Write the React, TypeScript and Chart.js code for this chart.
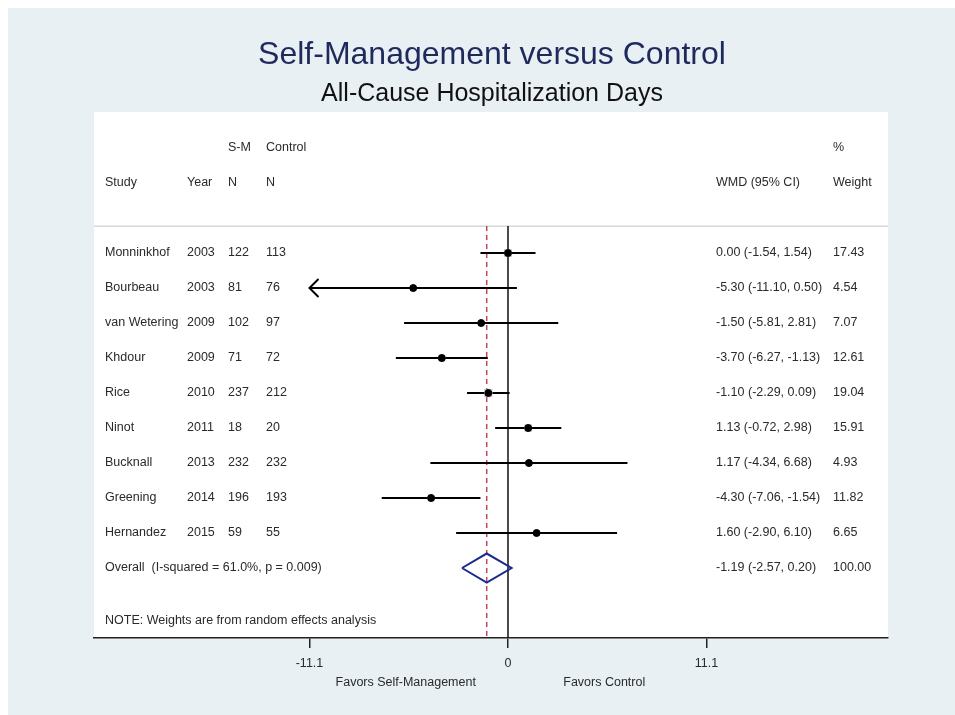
import React, { useEffect, useRef } from "react";
import { Chart, registerables } from "chart.js";

Chart.register(...registerables);

// ---------- data ----------
const studies = ["Monninkhof", "Bourbeau", "van Wetering", "Khdour", "Rice", "Ninot", "Bucknall", "Greening", "Hernandez"];
const years = [2003, 2003, 2009, 2009, 2010, 2011, 2013, 2014, 2015];
const smN = [122, 81, 102, 71, 237, 18, 232, 196, 59];
const controlN = [113, 76, 97, 72, 212, 20, 232, 193, 55];
const wmd = [0.0, -5.3, -1.5, -3.7, -1.1, 1.13, 1.17, -4.3, 1.6];
const ciLow = [-1.54, -11.1, -5.81, -6.27, -2.29, -0.72, -4.34, -7.06, -2.9];
const ciHigh = [1.54, 0.5, 2.81, -1.13, 0.09, 2.98, 6.68, -1.54, 6.1];
const weights = [17.43, 4.54, 7.07, 12.61, 19.04, 15.91, 4.93, 11.82, 6.65];
const overallWmd = -1.19;
const overallLow = -2.57;
const overallHigh = 0.2;
const overallWeight = 100.0;
const overallLabel = "Overall  (I-squared = 61.0%, p = 0.009)";
const noteLabel = "NOTE: Weights are from random effects analysis";
const xTicks = [-11.1, 0, 11.1];
const favorsLeft = "Favors Self-Management";
const favorsRight = "Favors Control";
const titleText = "Self-Management versus Control";
const subtitleText = "All-Cause Hospitalization Days";

// ---------- layout constants (rows on the y scale) ----------
const ROW_OVERALL = studies.length; // 9
const ROW_NOTE = 10.49;
const ROW_HEAD1 = -3;
const ROW_HEAD2 = -2;
const ROW_SEP = -0.77;
const Y_MIN = -4.03;
const Y_MAX = 11;
const X_MIN = -23.15;
const X_MAX = 21.25;
const DIAMOND_H = 0.414;

const FONT = "'Liberation Sans', Arial, Helvetica, sans-serif";
const TEXT = "#2a2a2a";

const fmt = (v: number) => v.toFixed(2);

const forestPlugin = {
  id: "forest",
  beforeDraw(chart: any) {
    const { ctx, chartArea, width, height, scales } = chart;
    ctx.save();
    ctx.fillStyle = "#e8f0f3";
    ctx.fillRect(0, 0, width, height);
    ctx.fillStyle = "#ffffff";
    ctx.fillRect(chartArea.left, chartArea.top, chartArea.right - chartArea.left, chartArea.bottom - chartArea.top);
    // header separator
    const ys = scales.y.getPixelForValue(ROW_SEP);
    ctx.strokeStyle = "#cfcfcf";
    ctx.lineWidth = 1.2;
    ctx.beginPath();
    ctx.moveTo(chartArea.left, ys);
    ctx.lineTo(chartArea.right, ys);
    ctx.stroke();
    ctx.restore();
  },
  afterDatasetsDraw(chart: any) {
    const { ctx, scales } = chart;
    const xs = scales.x;
    const yScale = scales.y;
    ctx.save();
    ctx.strokeStyle = "#000";
    ctx.lineWidth = 2;
    for (let i = 0; i < studies.length; i++) {
      if (ciLow[i] <= xTicks[0]) {
        const px = xs.getPixelForValue(Math.max(ciLow[i], xTicks[0]));
        const py = yScale.getPixelForValue(i);
        ctx.beginPath();
        ctx.moveTo(px + 9, py - 9);
        ctx.lineTo(px, py);
        ctx.lineTo(px + 9, py + 9);
        ctx.stroke();
      }
    }
    ctx.restore();
  },
  afterDraw(chart: any) {
    const { ctx, scales, chartArea } = chart;
    const yScale = scales.y;
    const xs = scales.x;
    ctx.save();
    // titles
    ctx.textAlign = "center";
    ctx.textBaseline = "alphabetic";
    ctx.fillStyle = "#1f2a5c";
    ctx.font = `32px ${FONT}`;
    ctx.fillText(titleText, 484, 56);
    ctx.fillStyle = "#111";
    ctx.font = `25px ${FONT}`;
    ctx.fillText(subtitleText, 484, 93);

    // table text
    const colStudy = chartArea.left + 11;
    const colYear = chartArea.left + 93;
    const colSm = chartArea.left + 134;
    const colCtl = chartArea.left + 172;
    const colWmd = chartArea.left + 622;
    const colWeight = chartArea.left + 739;
    ctx.font = `12.5px ${FONT}`;
    ctx.fillStyle = TEXT;
    ctx.textAlign = "left";
    ctx.textBaseline = "middle";
    const h1 = yScale.getPixelForValue(ROW_HEAD1);
    const h2 = yScale.getPixelForValue(ROW_HEAD2);
    ctx.fillText("S-M", colSm, h1);
    ctx.fillText("Control", colCtl, h1);
    ctx.fillText("%", colWeight, h1);
    ctx.fillText("Study", colStudy, h2);
    ctx.fillText("Year", colYear, h2);
    ctx.fillText("N", colSm, h2);
    ctx.fillText("N", colCtl, h2);
    ctx.fillText("WMD (95% CI)", colWmd, h2);
    ctx.fillText("Weight", colWeight, h2);

    for (let i = 0; i < studies.length; i++) {
      const py = yScale.getPixelForValue(i);
      ctx.fillText(studies[i], colStudy, py);
      ctx.fillText(String(years[i]), colYear, py);
      ctx.fillText(String(smN[i]), colSm, py);
      ctx.fillText(String(controlN[i]), colCtl, py);
      ctx.fillText(`${fmt(wmd[i])} (${fmt(ciLow[i])}, ${fmt(ciHigh[i])})`, colWmd, py);
      ctx.fillText(fmt(weights[i]), colWeight, py);
    }
    const po = yScale.getPixelForValue(ROW_OVERALL);
    ctx.fillText(overallLabel, colStudy, po);
    ctx.fillText(`${fmt(overallWmd)} (${fmt(overallLow)}, ${fmt(overallHigh)})`, colWmd, po);
    ctx.fillText(fmt(overallWeight), colWeight, po);
    ctx.fillText(noteLabel, colStudy, yScale.getPixelForValue(ROW_NOTE));

    // favors labels
    ctx.textAlign = "center";
    const fy = chartArea.bottom + 45;
    ctx.fillText(favorsLeft, (xs.getPixelForValue(xTicks[0]) + xs.getPixelForValue(0)) / 2 - 3, fy);
    ctx.fillText(favorsRight, (xs.getPixelForValue(0) + xs.getPixelForValue(xTicks[2])) / 2 - 3, fy);
    ctx.restore();
  },
};

export default function App() {
  const ref = useRef<HTMLCanvasElement | null>(null);
  useEffect(() => {
    if (!ref.current) return;
    const ciSets = studies.map((s, i) => ({
      type: "line" as const,
      label: s,
      data: [
        { x: Math.max(ciLow[i], xTicks[0]), y: i },
        { x: ciHigh[i], y: i },
      ],
      borderColor: "#000",
      borderWidth: 2,
      pointRadius: 0,
      showLine: true,
      order: 2,
    }));
    const chart = new Chart(ref.current, {
      type: "scatter",
      data: {
        datasets: [
          {
            label: "Estimate",
            data: wmd.map((v, i) => ({ x: v, y: i })),
            backgroundColor: "#000",
            borderColor: "#000",
            pointRadius: 3.5,
            pointStyle: "circle",
            order: 0,
          },
          {
            label: "Weight",
            data: wmd.map((v, i) => ({ x: v, y: i })),
            backgroundColor: "#cdcdcd",
            borderColor: "#cdcdcd",
            pointStyle: "rect",
            pointRadius: weights.map((w) => Math.sqrt(w) * 1.2),
            order: 1,
          },
          ...ciSets,
          {
            type: "line",
            label: "Overall",
            data: [
              { x: overallLow, y: ROW_OVERALL },
              { x: overallWmd, y: ROW_OVERALL - DIAMOND_H },
              { x: overallHigh, y: ROW_OVERALL },
              { x: overallWmd, y: ROW_OVERALL + DIAMOND_H },
              { x: overallLow, y: ROW_OVERALL },
            ],
            borderColor: "#1b2a8a",
            borderWidth: 2,
            pointRadius: 0,
            showLine: true,
            fill: false,
            tension: 0,
            order: 2,
          },
          {
            type: "line",
            label: "No effect",
            data: [
              { x: 0, y: ROW_SEP },
              { x: 0, y: Y_MAX },
            ],
            borderColor: "#111",
            borderWidth: 1.5,
            pointRadius: 0,
            showLine: true,
            order: 3,
          },
          {
            type: "line",
            label: "Overall effect",
            data: [
              { x: overallWmd, y: ROW_SEP },
              { x: overallWmd, y: Y_MAX },
            ],
            borderColor: "#c4465a",
            borderWidth: 1.5,
            borderDash: [5, 4],
            pointRadius: 0,
            showLine: true,
            order: 3,
          },
        ] as any,
      },
      options: {
        animation: false,
        responsive: false,
        devicePixelRatio: 1,
        layout: { padding: { left: 86, right: 67, top: 104, bottom: 0 } },
        plugins: {
          legend: { display: false },
          tooltip: { enabled: false },
          title: { display: false },
        },
        scales: {
          x: {
            type: "linear",
            min: X_MIN,
            max: X_MAX,
            afterBuildTicks: (scale: any) => {
              scale.ticks = xTicks.map((v) => ({ value: v }));
            },
            afterFit: (scale: any) => {
              scale.height = 77;
            },
            ticks: {
              autoSkip: false,
              maxRotation: 0,
              padding: 8,
              color: TEXT,
              font: { family: FONT, size: 12.5 },
              callback: (v: any) => String(v),
            },
            grid: {
              display: true,
              drawOnChartArea: false,
              drawTicks: true,
              tickLength: 10,
              tickColor: "#222",
              lineWidth: 1.5,
            },
            border: { display: true, color: "#222", width: 1.5 },
          },
          y: {
            type: "linear",
            display: false,
            reverse: true,
            min: Y_MIN,
            max: Y_MAX,
          },
        },
      },
      plugins: [forestPlugin],
    });
    return () => chart.destroy();
  }, []);
  return (
    <div style={{ position: "fixed", left: 8, top: 8, width: 947, height: 707 }}>
      <canvas ref={ref} width={947} height={707} style={{ display: "block" }} />
    </div>
  );
}
